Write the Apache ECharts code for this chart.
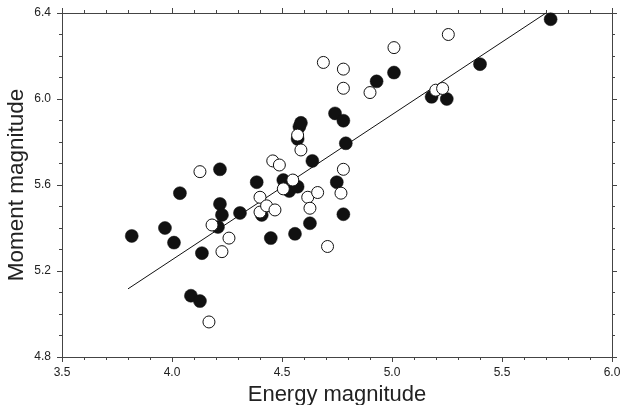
<!DOCTYPE html>
<html>
<head>
<meta charset="utf-8">
<script src="https://cdn.jsdelivr.net/npm/echarts@6/dist/echarts.min.js"></script>
<style>
html,body{margin:0;padding:0;background:#fff;}
#chart{width:622px;height:405px;}
</style>
</head>
<body>
<div id="chart"></div>
<script>
// Filled circles (Energy magnitude, Moment magnitude)
const filledX = [3.817,3.968,4.009,4.036,4.086,4.127,4.136,4.218,4.218,4.227,4.209,4.309,4.385,4.408,4.449,4.506,4.533,4.571,4.559,4.571,4.579,4.586,4.627,4.638,4.741,4.749,4.779,4.790,4.779,4.930,5.009,5.180,5.249,5.400,5.721];
const filledY = [5.363,5.400,5.332,5.562,5.085,5.060,5.283,5.673,5.512,5.461,5.405,5.470,5.613,5.461,5.353,5.623,5.572,5.592,5.373,5.814,5.871,5.889,5.422,5.712,5.933,5.613,5.899,5.794,5.464,6.082,6.123,6.010,6.000,6.162,6.371];
// Open circles
const openX = [4.127,4.168,4.182,4.227,4.259,4.400,4.400,4.430,4.458,4.468,4.488,4.506,4.549,4.571,4.586,4.617,4.627,4.662,4.688,4.707,4.768,4.779,4.779,4.779,4.900,5.009,5.199,5.230,5.256];
const openY = [5.662,4.963,5.414,5.290,5.353,5.543,5.474,5.503,5.712,5.484,5.693,5.582,5.623,5.832,5.763,5.543,5.492,5.565,6.170,5.314,5.562,5.673,6.139,6.050,6.030,6.239,6.041,6.049,6.300];
// Fit line end points
const fitX = [3.80, 5.70];
const fitY = [5.117, 6.40];
const xTicks = [3.5, 4.0, 4.5, 5.0, 5.5, 6.0];
const yTicks = [4.8, 5.2, 5.6, 6.0, 6.4];

const zip = (a, b) => a.map((v, i) => [v, b[i]]);
const axisColor = '#444';
const font = 'Liberation Sans, Arial, Helvetica, sans-serif';

const baseAxis = {
  type: 'value',
  axisLine: { show: true, lineStyle: { color: axisColor, width: 1 } },
  axisTick: { show: true, inside: false, length: 5, lineStyle: { color: axisColor } },
  minorTick: { show: true, length: 3, lineStyle: { color: axisColor } },
  splitLine: { show: false },
  minorSplitLine: { show: false }
};

const chart = echarts.init(document.getElementById('chart'), null, { renderer: 'canvas' });
chart.setOption({
  animation: false,
  backgroundColor: '#fff',
  grid: { left: 62, right: 10, top: 13, bottom: 48, containLabel: false, outerBoundsMode: 'none' },
  xAxis: [
    Object.assign({}, baseAxis, {
      min: xTicks[0], max: xTicks[xTicks.length - 1], interval: 0.5, position: 'bottom',
      minorTick: Object.assign({}, baseAxis.minorTick, { splitNumber: 5 }),
      axisLabel: { margin: 10, color: '#222', fontSize: 12, fontFamily: font, formatter: v => v.toFixed(1) },
      name: 'Energy magnitude', nameLocation: 'middle', nameGap: 27,
      nameTextStyle: { fontSize: 22, color: '#222', fontFamily: font }
    }),
    Object.assign({}, baseAxis, {
      min: xTicks[0], max: xTicks[xTicks.length - 1], interval: 0.5, position: 'top',
      minorTick: Object.assign({}, baseAxis.minorTick, { splitNumber: 5 }),
      axisLabel: { show: false }
    })
  ],
  yAxis: [
    Object.assign({}, baseAxis, {
      min: yTicks[0], max: yTicks[yTicks.length - 1], interval: 0.4, position: 'left',
      minorTick: Object.assign({}, baseAxis.minorTick, { splitNumber: 4 }),
      axisLabel: { margin: 11, color: '#222', fontSize: 12, fontFamily: font, formatter: v => v.toFixed(1) },
      name: 'Moment magnitude', nameLocation: 'middle', nameGap: 34, nameMoveOverlap: false,
      nameTextStyle: { fontSize: 22.5, color: '#222', fontFamily: font }
    }),
    Object.assign({}, baseAxis, {
      min: yTicks[0], max: yTicks[yTicks.length - 1], interval: 0.4, position: 'right',
      minorTick: Object.assign({}, baseAxis.minorTick, { splitNumber: 4 }),
      axisLabel: { show: false }
    })
  ],
  series: [
    {
      type: 'line', data: zip(fitX, fitY), showSymbol: false, symbol: 'none',
      lineStyle: { color: '#111', width: 1 }, z: 1, silent: true
    },
    {
      type: 'scatter', data: zip(filledX, filledY), symbol: 'circle', symbolSize: 13,
      itemStyle: { color: '#111', borderColor: '#111', borderWidth: 0.5, opacity: 1 }, z: 2
    },
    {
      type: 'scatter', data: zip(openX, openY), symbol: 'circle', symbolSize: 12,
      itemStyle: { color: '#fff', borderColor: '#111', borderWidth: 1, opacity: 1 }, z: 3
    }
  ]
});
</script>
</body>
</html>
